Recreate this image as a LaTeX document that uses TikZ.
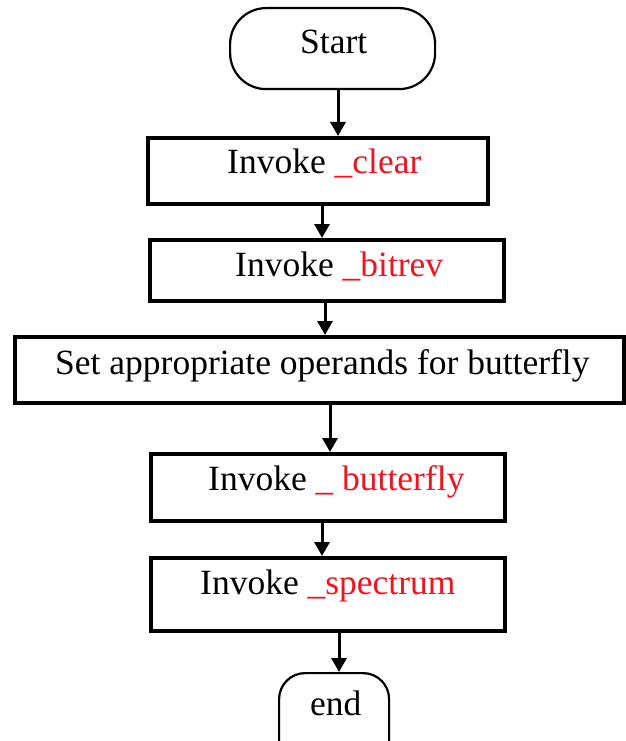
\documentclass[tikz,border=0pt]{standalone}
\usepackage{fontspec}
\setmainfont{Liberation Serif}
\usetikzlibrary{arrows.meta,calc}
\definecolor{lblred}{RGB}{240,20,30}
\tikzset{
  proc/.style={draw=black,line width=4.4pt,inner sep=0pt,anchor=north west},
  term/.style={draw=black,line width=2.2pt,rounded corners=36pt,inner sep=0pt,anchor=north west},
  lbl/.style={anchor=base west,inner sep=0pt,font=\fontsize{35.5}{40}\selectfont},
  arr/.style={line width=3pt,-{Triangle[width=15pt,length=14pt]}}
}
\begin{document}
\begin{tikzpicture}[x=1pt,y=-1pt]
\useasboundingbox (0,0) rectangle (625,741);
\fill[white] (0,0) rectangle (625,741);
% shapes
\node[term,minimum width=205pt,minimum height=81pt] (start) at (229,7) {};
\node[proc,minimum width=340pt,minimum height=66pt] (b1) at (146,136) {};
\node[proc,minimum width=354pt,minimum height=61pt] (b2) at (148,238) {};
\node[proc,minimum width=609pt,minimum height=66pt] (b3) at (13,335) {};
\node[proc,minimum width=354pt,minimum height=67pt] (b4) at (149,452) {};
\node[proc,minimum width=354pt,minimum height=73pt] (b5) at (149,556) {};
\node[term,rounded corners=26pt,minimum width=110pt,minimum height=100pt] (e) at (278,672) {};
% labels
\node[lbl] (tstart) at (300,54) {Start};
\node[lbl] (t1) at (227,173) {Invoke \textcolor{lblred}{\_clear}};
\node[lbl] (t2) at (235,276) {Invoke \textcolor{lblred}{\_bitrev}};
\node[lbl] (t3) at (55,374) {Set appropriate operands for butterfly};
\node[lbl] (t4) at (208,490) {Invoke \textcolor{lblred}{\_ butterfly}};
\node[lbl] (t5) at (200,594) {Invoke \textcolor{lblred}{\_spectrum}};
\node[lbl] (tend) at (310,715) {end};
% arrow columns
\coordinate (x1) at (338,0);
\coordinate (x2) at (322,0);
\coordinate (x3) at (325,0);
\coordinate (x4) at (330,0);
\coordinate (x5) at (322,0);
\coordinate (x6) at (339,0);
% connectors
\draw[arr] (start.south -| x1) -- (b1.north -| x1);
\draw[arr] (b1.south -| x2) -- (b2.north -| x2);
\draw[arr] (b2.south -| x3) -- (b3.north -| x3);
\draw[arr] (b3.south -| x4) -- (b4.north -| x4);
\draw[arr] (b4.south -| x5) -- (b5.north -| x5);
\draw[arr] (b5.south -| x6) -- (e.north -| x6);
\end{tikzpicture}
\end{document}
